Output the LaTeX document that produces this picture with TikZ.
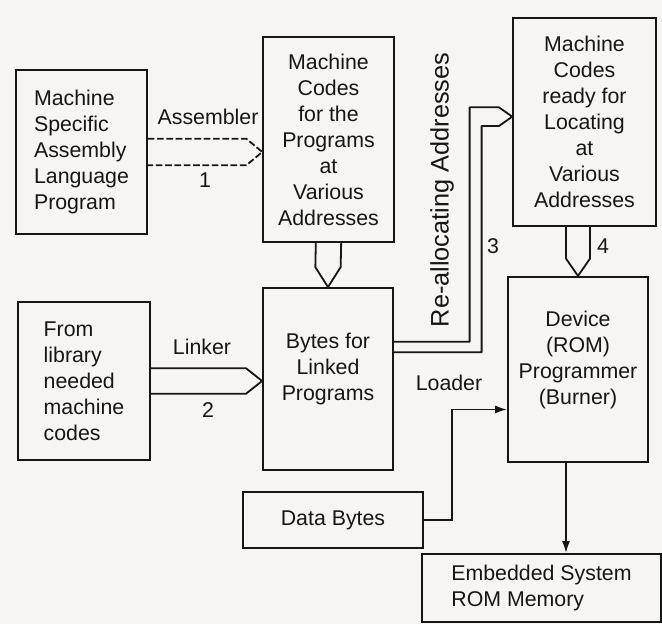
\documentclass[tikz,border=0pt]{standalone}
\usepackage{fontspec}
\setmainfont{Liberation Sans}
\usetikzlibrary{arrows.meta,calc}
\definecolor{ink}{HTML}{161616}
\definecolor{paper}{HTML}{F6F5F2}
\tikzset{
box/.style={draw=ink,line width=1.35pt,align=center,font=\fontsize{16}{19.5}\selectfont,text=ink,inner sep=3pt},
boxl/.style={box,align=left},
pipe/.style={line width=1.35pt,draw=ink,line join=round},
wire/.style={-{Latex[length=9pt,width=6pt]},line width=1.35pt,draw=ink},
tag/.style={font=\fontsize{16}{19.5}\selectfont,text=ink,inner sep=1pt}}

\begin{document}
\begin{tikzpicture}[x=.75pt,y=-.75pt]
\fill[paper] (0,0) rectangle (662,624);
\useasboundingbox (0,0) rectangle (662,624);
% program stages
\node[boxl,minimum width=98pt,minimum height=123pt] (asm) at (81.5,152) {Machine\\Specific\\Assembly\\Language\\Program};
\node[box,minimum width=98pt,minimum height=154pt] (mcodes) at (328.5,139.5) {Machine\\Codes\\for the\\Programs\\at\\Various\\Addresses};
\node[box,minimum width=107pt,minimum height=156pt] (ready) at (584.5,122) {Machine\\Codes\\ready for\\Locating\\at\\Various\\Addresses};
\node[boxl,minimum width=99pt,minimum height=118.5pt] (lib) at (84,381) {From\\library\\needed\\machine\\codes};
\node[box,minimum width=97.5pt,minimum height=136.5pt,text depth=18pt] (bytes) at (328,379) {Bytes for\\Linked\\Programs};
\node[box,minimum width=105pt,minimum height=139pt,text depth=18pt] (burner) at (578,369.5) {Device\\(ROM)\\Programmer\\(Burner)};
\node[box,minimum width=135pt,minimum height=42pt] (data) at (333,520) {Data Bytes};
\node[boxl,minimum width=179pt,minimum height=51pt] (rom) at (541.5,588) {Embedded System\\ROM Memory};
% step 1: assembler
\coordinate (asmtip) at (mcodes.west |- asm.east);
\draw[pipe,dash pattern=on 5pt off 2pt] ([yshift=10pt]asm.east) -- ([xshift=-12pt,yshift=10pt]asmtip) -- (asmtip) -- ([xshift=-12pt,yshift=-10pt]asmtip) -- ([yshift=-10pt]asm.east);
\node[tag] (asmlbl) at (208,117) {Assembler};
\node[tag] (asmnum) at (205,180) {1};
% step 2: linker
\coordinate (lnktip) at (bytes.west |- lib.east);
\draw[pipe] ([yshift=9.5pt]lib.east) -- ([xshift=-12pt,yshift=9.5pt]lnktip) -- (lnktip) -- ([xshift=-12pt,yshift=-9.5pt]lnktip) -- ([yshift=-9.5pt]lib.east);
\node[tag] (lnklbl) at (202,347) {Linker};
\node[tag] (lnknum) at (208,410) {2};
% codes into linked bytes
\draw[pipe] ([xshift=-9.5pt]mcodes.south) -- ([xshift=-9.5pt,yshift=15pt]bytes.north) -- (bytes.north) -- ([xshift=9.5pt,yshift=15pt]bytes.north) -- ([xshift=9.5pt]mcodes.south);
% step 3: re-allocation
\coordinate (reltip) at ([yshift=4pt]ready.west);
\draw[pipe] ([yshift=20pt]bytes.east) -| ([xshift=-23pt,yshift=-7pt]reltip) -- ([xshift=-10pt,yshift=-7pt]reltip) -- (reltip) -- ([xshift=-10pt,yshift=7pt]reltip) -- ([xshift=-32pt,yshift=7pt]reltip) |- ([yshift=28pt]bytes.east);
\node[tag,rotate=90,font=\fontsize{19}{22}\selectfont] (rellbl) at (442,190) {Re-allocating Addresses};
\node[tag] (relnum) at (493,246) {3};
% step 4: into the programmer
\draw[pipe] ([xshift=-9pt]burner.north |- ready.south) -- ([xshift=-9pt,yshift=13pt]burner.north) -- (burner.north) -- ([xshift=9pt,yshift=13pt]burner.north) -- ([xshift=9pt]burner.north |- ready.south);
\node[tag] (burnnum) at (603,246) {4};
% loader and burning
\draw[wire] (data.east) -- ++(28,0) |- ([yshift=-30pt]burner.west);
\node[tag] (loadlbl) at (449,383) {Loader};
\draw[wire] ([xshift=-9pt]burner.south) -- ([xshift=-9pt]burner.south |- rom.north);
\end{tikzpicture}
\end{document}
